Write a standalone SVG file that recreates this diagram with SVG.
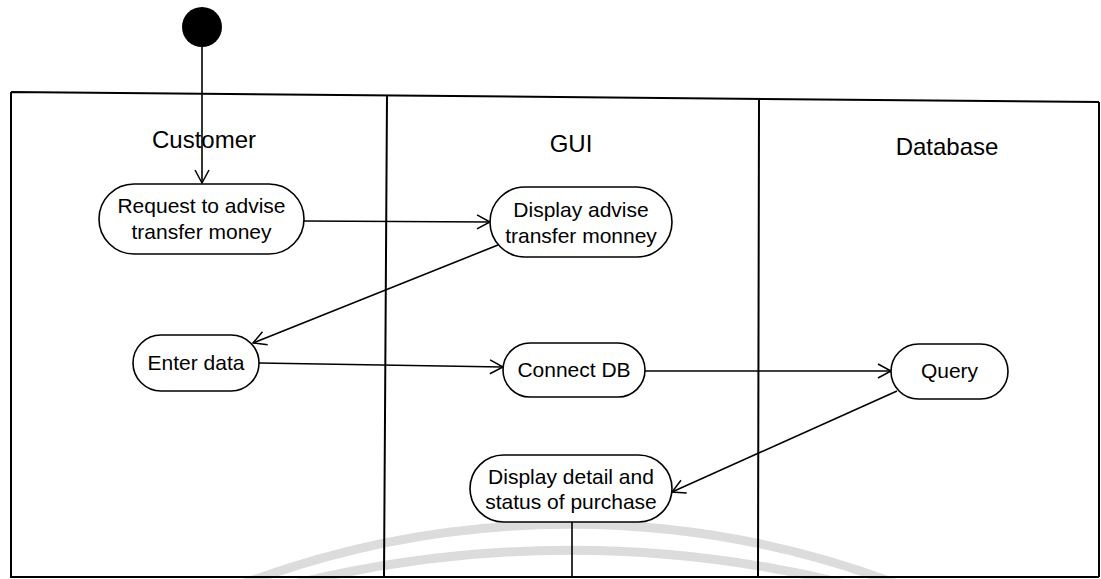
<svg xmlns="http://www.w3.org/2000/svg" width="1101" height="579" viewBox="0 0 1101 579">
<defs>
<marker id="open" markerUnits="userSpaceOnUse" markerWidth="16" markerHeight="18" refX="14" refY="8" orient="auto">
<path d="M1,1 L14,8 L1,15" fill="none" stroke="#000" stroke-width="1.5"/>
</marker>
<style>
.lane{stroke:#000;stroke-width:2;fill:none}
.node{fill:#fff;stroke:#000;stroke-width:1.6}
.lbl{font-family:"Liberation Sans",Arial,sans-serif;font-size:21px;fill:#000;text-anchor:middle}
.hdr{font-family:"Liberation Sans",Arial,sans-serif;font-size:24px;fill:#000;text-anchor:middle}
.edge{stroke:#000;stroke-width:1.6;fill:none}
.wm{stroke:#dcdcdc;stroke-width:9;fill:none}
</style>
</defs>
<rect width="1101" height="579" fill="#fff"/>
<g id="watermark">
<path class="wm" d="M240,585 A927,927 0 0 1 900,585"/>
<path class="wm" d="M290,585 A1145,1145 0 0 1 850,585"/>
</g>
<g id="swimlanes">
<path class="lane" d="M11,92 L1099,102 M11,92 L11,577 L1099,577 M1099,102 L1099,577 M387,95 L384,577 M759,100 L758,577"/>
<text class="hdr" x="204" y="148">Customer</text>
<text class="hdr" x="571" y="152">GUI</text>
<text class="hdr" x="947" y="155">Database</text>
</g>
<g id="start"><circle cx="202" cy="27" r="20" fill="#000"/></g>
<g id="connectors">
<path class="edge" d="M202,47 L202,183" marker-end="url(#open)"/>
<path class="edge" d="M304,221 L490,222" marker-end="url(#open)"/>
<path class="edge" d="M498,245 L253,343" marker-end="url(#open)"/>
<path class="edge" d="M259,363 L503,367" marker-end="url(#open)"/>
<path class="edge" d="M645,371 L891,371" marker-end="url(#open)"/>
<path class="edge" d="M897,391 L672,492" marker-end="url(#open)"/>
<path class="edge" d="M572,522 L572,577"/>
</g>
<g id="n_request">
<rect class="node" x="99" y="184" width="205" height="70" rx="35"/>
<text class="lbl" x="201.5" y="213">Request to advise</text>
<text class="lbl" x="201.5" y="239">transfer money</text>
</g>
<g id="n_display_advise">
<rect class="node" x="490" y="187" width="182" height="70" rx="35"/>
<text class="lbl" x="581" y="217">Display advise</text>
<text class="lbl" x="581" y="243">transfer monney</text>
</g>
<g id="n_enter">
<rect class="node" x="133" y="335" width="126" height="56" rx="28"/>
<text class="lbl" x="196" y="370">Enter data</text>
</g>
<g id="n_connect">
<rect class="node" x="503" y="343" width="142" height="54" rx="27"/>
<text class="lbl" x="574" y="377">Connect DB</text>
</g>
<g id="n_query">
<rect class="node" x="891" y="344" width="117" height="55" rx="27.5"/>
<text class="lbl" x="949.5" y="378">Query</text>
</g>
<g id="n_display_detail">
<rect class="node" x="470" y="455" width="202" height="67" rx="33.5"/>
<text class="lbl" x="571" y="484">Display detail and</text>
<text class="lbl" x="571" y="509">status of purchase</text>
</g>
</svg>
